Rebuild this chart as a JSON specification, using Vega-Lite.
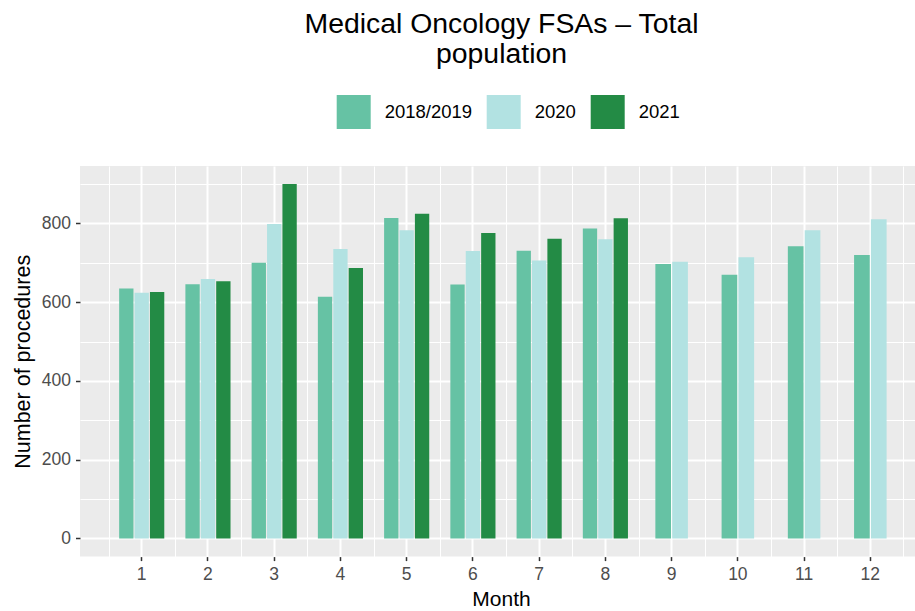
{
  "$schema": "https://vega.github.io/schema/vega-lite/v6.json",
  "width": 835,
  "height": 390.6,
  "autosize": {"type": "none"},
  "padding": {"left": 80, "top": 166, "right": 0, "bottom": 54.4},
  "background": "white",
  "title": {
    "text": ["Medical Oncology FSAs – Total", "population"],
    "fontSize": 28.4,
    "fontWeight": "normal",
    "font": "Liberation Sans",
    "color": "black",
    "anchor": "middle",
    "lineHeight": 30,
    "dx": 4,
    "dy": -26,
    "offset": 0
  },
  "data": {
    "values": [
      {"month": 1, "year": "2018/2019", "count": 635},
      {"month": 1, "year": "2020", "count": 624},
      {"month": 1, "year": "2021", "count": 626},
      {"month": 2, "year": "2018/2019", "count": 646},
      {"month": 2, "year": "2020", "count": 659},
      {"month": 2, "year": "2021", "count": 653},
      {"month": 3, "year": "2018/2019", "count": 700},
      {"month": 3, "year": "2020", "count": 799},
      {"month": 3, "year": "2021", "count": 900},
      {"month": 4, "year": "2018/2019", "count": 614},
      {"month": 4, "year": "2020", "count": 735},
      {"month": 4, "year": "2021", "count": 687},
      {"month": 5, "year": "2018/2019", "count": 814},
      {"month": 5, "year": "2020", "count": 783},
      {"month": 5, "year": "2021", "count": 825},
      {"month": 6, "year": "2018/2019", "count": 645},
      {"month": 6, "year": "2020", "count": 730},
      {"month": 6, "year": "2021", "count": 776},
      {"month": 7, "year": "2018/2019", "count": 731},
      {"month": 7, "year": "2020", "count": 706},
      {"month": 7, "year": "2021", "count": 761},
      {"month": 8, "year": "2018/2019", "count": 787},
      {"month": 8, "year": "2020", "count": 760},
      {"month": 8, "year": "2021", "count": 813},
      {"month": 9, "year": "2018/2019", "count": 697},
      {"month": 9, "year": "2020", "count": 703},
      {"month": 10, "year": "2018/2019", "count": 670},
      {"month": 10, "year": "2020", "count": 714},
      {"month": 11, "year": "2018/2019", "count": 742},
      {"month": 11, "year": "2020", "count": 783},
      {"month": 12, "year": "2018/2019", "count": 720},
      {"month": 12, "year": "2020", "count": 811}
    ]
  },
  "layer": [
    {
      "transform": [{"filter": "datum.month <= 8"}],
      "mark": {"type": "bar"},
      "encoding": {
        "x": {
          "field": "month",
          "type": "ordinal",
          "scale": {"domain": [1,2,3,4,5,6,7,8,9,10,11,12], "paddingInner": 0, "paddingOuter": 0.303, "align": 0.7125},
          "axis": {
            "orient": "bottom",
            "title": "Month",
            "bandPosition": 0.5,
            "grid": true,
            "gridColor": "white",
            "gridWidth": 2,
            "domain": false,
            "ticks": true,
            "tickColor": "#333333",
            "tickWidth": 1.5,
            "tickSize": 4,
            "labelAngle": 0,
            "labelFontSize": 17.5,
            "labelColor": "#4d4d4d",
            "labelPadding": 5,
            "titleFontSize": 21,
            "titleFontWeight": "normal",
            "titleColor": "black",
            "titleX": 421,
            "titleY": 48.4,
            "titleBaseline": "alphabetic"
          }
        },
        "y": {
          "field": "count",
          "type": "quantitative",
          "scale": {"domain": [-46, 946], "nice": false, "zero": false},
          "axis": {
            "orient": "left",
            "title": "Number of procedures",
            "values": [0, 200, 400, 600, 800],
            "grid": true,
            "gridColor": "white",
            "gridWidth": 2,
            "domain": false,
            "tickColor": "#333333",
            "tickWidth": 1.5,
            "tickSize": 4.5,
            "labelFontSize": 17.5,
            "labelColor": "#4d4d4d",
            "labelPadding": 5,
            "titleFontSize": 21.5,
            "titleFontWeight": "normal",
            "titleColor": "black",
            "titleAngle": 270,
            "titleX": -51,
            "titleY": 195.3,
            "titleBaseline": "alphabetic"
          }
        },
        "xOffset": {
          "field": "year",
          "type": "nominal",
          "scale": {"domain": ["2018/2019", "2020", "2021"], "paddingInner": 0.07, "paddingOuter": 0.6855}
        },
        "color": {
          "field": "year",
          "type": "nominal",
          "scale": {"domain": ["2018/2019", "2020", "2021"], "range": ["#66c2a4", "#b2e2e2", "#238b45"]},
          "legend": {
            "orient": "none",
            "legendX": 256.7,
            "legendY": -71,
            "direction": "horizontal",
            "title": null,
            "symbolType": "square",
            "symbolSize": 1156,
            "symbolStrokeWidth": 0,
            "symbolOpacity": 1,
            "labelFontSize": 18.5,
            "labelColor": "black",
            "labelOffset": 14,
            "columnPadding": 14
          }
        }
      }
    },
    {
      "transform": [{"filter": "datum.month >= 9"}],
      "mark": {"type": "bar"},
      "encoding": {
        "x": {
          "field": "month",
          "type": "ordinal",
          "axis": {
            "orient": "bottom",
            "title": null,
            "tickBand": "extent",
            "grid": true,
            "gridColor": "white",
            "gridWidth": 1,
            "domain": false,
            "ticks": false,
            "labels": false
          }
        },
        "y": {
          "field": "count",
          "type": "quantitative",
          "axis": {
            "orient": "left",
            "title": null,
            "values": [100, 300, 500, 700, 900],
            "grid": true,
            "gridColor": "white",
            "gridWidth": 1,
            "domain": false,
            "ticks": false,
            "labels": false
          }
        },
        "xOffset": {
          "field": "year",
          "type": "nominal",
          "scale": {"domain": ["2018/2019", "2020"], "paddingInner": 0.07, "paddingOuter": 1.1855}
        },
        "color": {"field": "year", "type": "nominal"}
      }
    }
  ],
  "resolve": {
    "scale": {"xOffset": "independent"},
    "axis": {"x": "independent", "y": "independent"}
  },
  "config": {
    "font": "Liberation Sans",
    "view": {"fill": "#ebebeb", "stroke": null}
  }
}
